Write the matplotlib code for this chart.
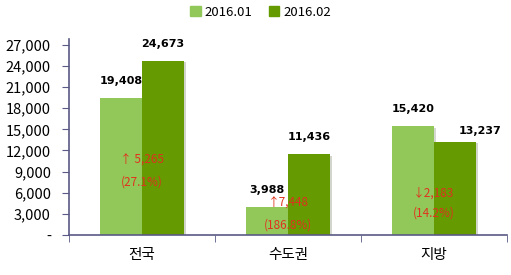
import numpy as np
import matplotlib.pyplot as plt
import matplotlib.patheffects as pe
from matplotlib.patches import Patch

plt.rcParams['font.family'] = ['Noto Sans CJK KR', 'DejaVu Sans']

# data
categories = ['전국', '수도권', '지방']
series_names = ['2016.01', '2016.02']
jan = [19408, 3988, 15420]
feb = [24673, 11436, 13237]
change_txt = ['↑ 5,265', '↑7,448', '↓2,183']
pct_txt = ['(27.1%)', '(186.8%)', '(14.2%)']
yticks = [0, 3000, 6000, 9000, 12000, 15000, 18000, 21000, 24000, 27000]

c_light = '#92c85a'
c_dark = '#659a00'
c_red = '#e0321e'
c_axis = '#5a5a86'

fig = plt.figure(figsize=(5.11, 2.75), dpi=100)
ax = fig.add_axes([0.135, 0.145, 0.857, 0.713])

x = np.arange(len(categories))
w = 0.29
shadow = [pe.SimplePatchShadow(offset=(1.5, -1), alpha=0.2), pe.Normal()]
ax.bar(x - w / 2, jan, w, color=c_light, path_effects=shadow)
ax.bar(x + w / 2, feb, w, color=c_dark, path_effects=shadow)

# value labels
for i in range(len(x)):
    ax.text(x[i] - w / 2, jan[i] + 1700, f'{jan[i]:,}', ha='center', va='bottom',
            fontsize=8, fontweight='bold', family='DejaVu Sans')
    if i == 2:
        ax.text(x[i] + w / 2 + 0.17, feb[i] + 800, f'{feb[i]:,}', ha='center', va='bottom',
                fontsize=8, fontweight='bold', family='DejaVu Sans')
    else:
        ax.text(x[i] + w / 2, feb[i] + 1700, f'{feb[i]:,}', ha='center', va='bottom',
                fontsize=8, fontweight='bold', family='DejaVu Sans')

# change annotations
ann_y = [(10650, 7530), (4545, 1420), (5966, 3125)]
for i in range(len(x)):
    ax.text(x[i], ann_y[i][0], change_txt[i], ha='center', va='center', fontsize=8.5, color=c_red)
    ax.text(x[i], ann_y[i][1], pct_txt[i], ha='center', va='center', fontsize=8.5, color=c_red)

ax.set_xlim(-0.5, 2.5)
ax.set_ylim(0, 27800)
ax.set_yticks(yticks)
ax.set_yticklabels(['-' if v == 0 else f'{v:,}' for v in yticks], fontsize=10.5)
ax.set_xticks(x)
ax.set_xticklabels(categories, fontsize=10.5)
ax.tick_params(axis='x', length=0, pad=9)
ax.set_xticks([-0.5, 0.5, 1.5, 2.5], minor=True)
ax.tick_params(axis='x', which='minor', length=5, color=c_axis, direction='out')
ax.tick_params(axis='y', length=5, color=c_axis, direction='out', pad=8)

for s in ['top', 'right']:
    ax.spines[s].set_visible(False)
for s in ['left', 'bottom']:
    ax.spines[s].set_color(c_axis)
    ax.spines[s].set_linewidth(1.2)

handles = [Patch(color=c_light, label=series_names[0]), Patch(color=c_dark, label=series_names[1])]
fig.legend(handles=handles, loc='center', bbox_to_anchor=(0.51, 0.955), ncol=2,
           frameon=False, fontsize=9.5, handlelength=0.8, handleheight=0.8,
           handletextpad=0.3, columnspacing=1.2)

plt.savefig('out.png', dpi=100)
